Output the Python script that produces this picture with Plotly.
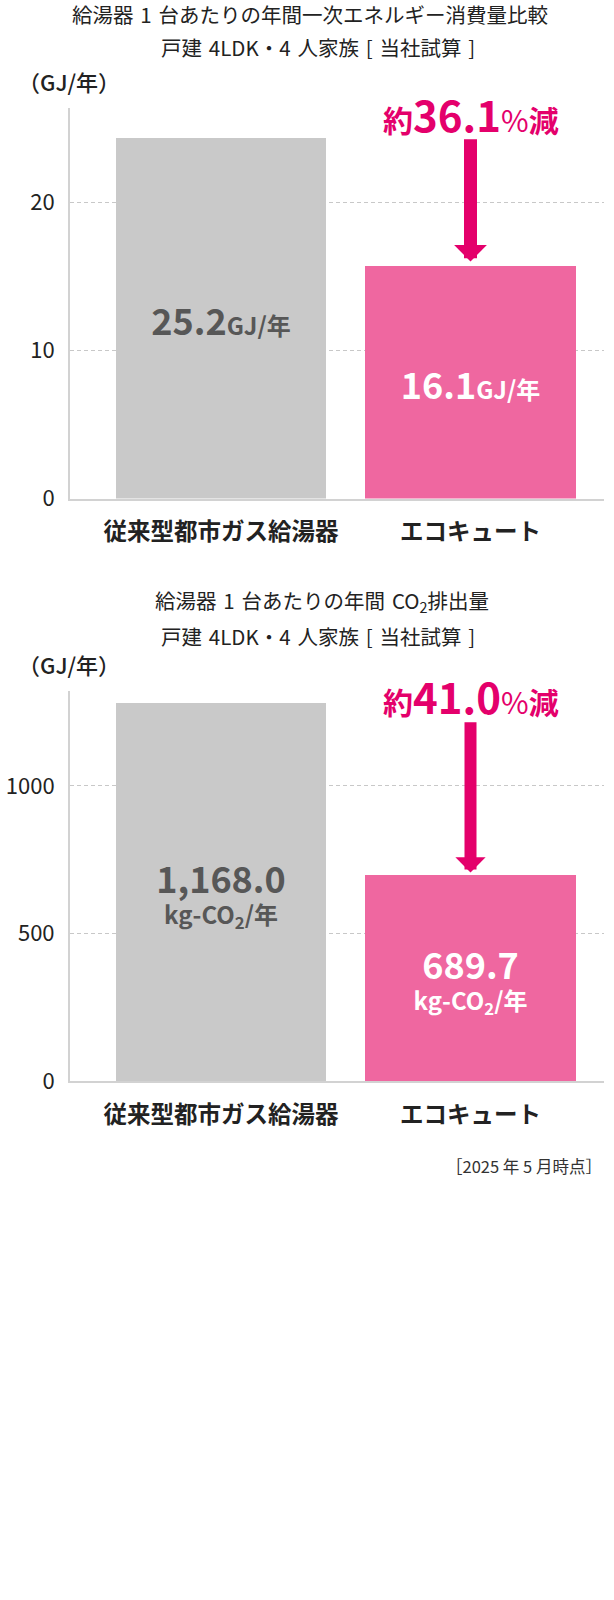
import plotly.graph_objects as go
from plotly.subplots import make_subplots

# --- data ---
categories = ["従来型都市ガス給湯器", "エコキュート"]

# chart 1: 一次エネルギー消費量 (bar heights as drawn against the axis, labels as printed)
energy_values = [24.35, 15.7]
energy_labels = ["25.2", "16.1"]
energy_ticks = [0, 10, 20]
energy_arrow = [24.35, 16.0]  # tail, tip
energy_cut = "36.1"

# chart 2: CO2排出量
co2_values = [1281, 697]
co2_labels = ["1,168.0", "689.7"]
co2_ticks = [0, 500, 1000]
co2_arrow = [1220, 707]  # tail, tip
co2_cut = "41.0"

SP = "\u2004"
titles = [
    ("給湯器" + SP + "1" + SP + "台あたりの年間一次エネルギー消費量比較",
     "戸建" + SP + "4LDK・4" + SP + "人家族" + SP + "[" + SP + "当社試算" + SP + "]"),
    ("給湯器" + SP + "1" + SP + "台あたりの年間" + SP + "CO<sub>2</sub>排出量",
     "戸建" + SP + "4LDK・4" + SP + "人家族" + SP + "[" + SP + "当社試算" + SP + "]"),
]
unit_label = "（GJ/年）"
note = "［2025 年 5 月時点］"

# --- style ---
FONT = "Noto Sans CJK JP"
W, H = 614, 1600
bar_colors = ["#c9c9c9", "#ef67a0"]
label_colors = ["#575757", "#ffffff"]
accent = "#e4006b"
ink = "#222222"


def py(px):
    return 1 - px / H


fig = make_subplots(rows=2, cols=1)

energy_text = ["<span style='font-size:36px'>%s</span>GJ/年" % v for v in energy_labels]
co2_text = ["<span style='font-size:36px'>%s</span><br>kg-CO<sub>2</sub>/年" % v for v in co2_labels]

for row, (vals, txt) in enumerate([(energy_values, energy_text), (co2_values, co2_text)], start=1):
    fig.add_trace(go.Bar(
            x=categories,
            y=vals,
            text=txt,
            textposition="inside",
            insidetextanchor="middle",
            textangle=0,
            constraintext="none",
            textfont=dict(family=FONT, size=24, color=label_colors, weight="bold"),
            marker=dict(color=bar_colors, line=dict(width=0)),
            width=0.842,
            hoverinfo="skip",
            ),
        row=row,
        col=1
        )

axis_common = dict(
    showline=True, linecolor="#d2d2d2", linewidth=2,
    ticks="", zeroline=False, fixedrange=True,
)
xdom = [70 / W, 604 / W]
xtick = dict(size=23.5, weight="bold", color=ink)
ytick = dict(size=22, color=ink)
fig.update_layout(
    width=W,
    height=H,
    autosize=False,
    margin=dict(l=0, r=0, t=0, b=0),
    paper_bgcolor="white",
    plot_bgcolor="white",
    showlegend=False,
    bargap=0,
    font=dict(family=FONT, color=ink),
    xaxis=dict(domain=xdom, range=[-0.605, 1.535], showgrid=False,
               tickfont=xtick, ticklabelstandoff=11, **axis_common),
    xaxis2=dict(domain=xdom, range=[-0.605, 1.535], showgrid=False,
                tickfont=xtick, ticklabelstandoff=11, **axis_common),
    yaxis=dict(domain=[py(503), py(109)], range=[0, 26.35], tickvals=energy_ticks,
               showgrid=True, gridcolor="#c8c8c8", griddash="4px,3px", gridwidth=1,
               tickfont=ytick, ticklabelstandoff=9, **axis_common),
    yaxis2=dict(domain=[py(1091), py(697)], range=[0, 1321], tickvals=co2_ticks,
                showgrid=True, gridcolor="#c8c8c8", griddash="4px,3px", gridwidth=1,
                tickfont=ytick, ticklabelstandoff=9, **axis_common),
)

annotations = []
offsets = [0, 588]
title_y = [(14, 47), (606, 642)]
title_x = [(310, 318), (322, 318)]
for i, (t, s) in enumerate(titles):
    annotations.append(dict(text=t, xref="paper", yref="paper", x=title_x[i][0] / W, y=py(title_y[i][0]),
                            xanchor="center", yanchor="middle", showarrow=False,
                            font=dict(size=20.5, color=ink)))
    annotations.append(dict(text=s, xref="paper", yref="paper", x=title_x[i][1] / W, y=py(title_y[i][1]),
                            xanchor="center", yanchor="middle", showarrow=False,
                            font=dict(size=20.5, color=ink)))
    annotations.append(dict(text=unit_label, xref="paper", yref="paper", x=69 / W, y=py(82 + offsets[i]),
                            xanchor="center", yanchor="middle", showarrow=False,
                            font=dict(size=22, color=ink, weight=500)))

for i, (arrow, cut) in enumerate([(energy_arrow, energy_cut), (co2_arrow, co2_cut)]):
    xr = "x" if i == 0 else "x2"
    yr = "y" if i == 0 else "y2"
    annotations.append(dict(
        x=categories[1], y=arrow[1], ax=categories[1], ay=arrow[0],
        xref=xr, yref=yr, axref=xr, ayref=yr,
        text="", showarrow=True, arrowhead=1, arrowsize=0.42,
        arrowwidth=13 if i == 0 else 12, arrowcolor=accent, standoff=0,
    ))
    annotations.append(dict(
        text="<b>約</b><b><span style='font-size:42px'>%s</span></b>%%<b>減</b>" % cut,
        x=categories[1], xref=xr, yref="paper", y=py(114 + offsets[i]),
        xanchor="center", yanchor="middle", showarrow=False,
        font=dict(size=30, color=accent),
    ))

annotations.append(dict(text=note, xref="paper", yref="paper", x=604 / W, y=py(1176),
                        xanchor="right", yanchor="middle", showarrow=False,
                        font=dict(size=16.5, color="#333333")))

fig.update_layout(annotations=annotations)

config = {'displayModeBar': False}
fig.write_html("out.html", config=config, post_script="document.body.style.margin='0';")
